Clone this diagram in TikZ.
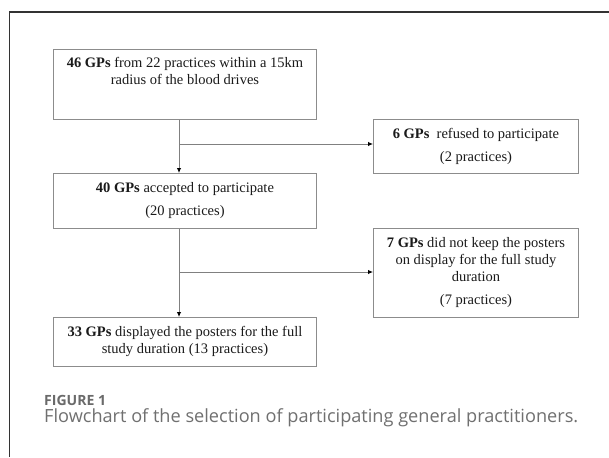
\documentclass[tikz,border=0pt]{standalone}
\usepackage{fontspec}
\setmainfont{Liberation Serif}
\newfontfamily\capfont{Open Sans}[Ligatures=NoCommon]
\usetikzlibrary{arrows.meta}
\definecolor{boxline}{HTML}{8C8C8C}
\definecolor{conline}{HTML}{808080}
\definecolor{frameline}{HTML}{333333}
\definecolor{boxtext}{HTML}{1A1A1A}
\definecolor{captext}{HTML}{707070}
\definecolor{figlabel}{HTML}{6A6A6A}
\begin{document}
\begin{tikzpicture}[x=1pt,y=-1pt,
  box/.style={draw=boxline, line width=0.9pt, fill=white, anchor=north west, inner sep=0pt},
  txt/.style={text=boxtext, align=center, inner sep=0pt, font=\fontsize{14.5}{17}\selectfont},
  con/.style={draw=conline, line width=0.9pt},
  arr/.style={con, -{Latex[length=5pt,width=4.5pt,fill=black,color=black]}},
  captxt/.style={anchor=base west, inner sep=0pt}
]
\useasboundingbox (0,0) rectangle (609,457);
\fill[white] (0,0) rectangle (609,457);
% frame
\draw[frameline, line width=1.1pt] (609,12) -- (9.5,12) -- (9.5,457);

% boxes
\node (b1) [box, minimum width=263pt, minimum height=70pt] at (53,49) {};
\node (t1) [txt, anchor=north] at (185,57) {\textbf{46 GPs} from 22 practices within a 15km\\radius of the blood drives};

\node (r) [box, minimum width=205pt, minimum height=54pt] at (373,119) {};
\node (tr) [txt] at (r.center) {\textbf{6 GPs}\ \ refused to participate\\[6pt](2 practices)};

\node (b2) [box, minimum width=263pt, minimum height=55pt] at (53,173) {};
\node (t2) [txt] at (b2.center) {\textbf{40 GPs} accepted to participate\\[6pt](20 practices)};

\node (b7) [box, minimum width=205pt, minimum height=89pt] at (373,228) {};
\node (t7) [txt] at (b7.center) {\textbf{7 GPs} did not keep the posters\\on display for the full study\\duration\\[6pt](7 practices)};

\node (b33) [box, minimum width=263pt, minimum height=49pt] at (53,317) {};
\node (t33) [txt] at ([yshift=0.5pt]b33.center) {\textbf{33 GPs} displayed the posters for the full\\study duration (13 practices)};

% connectors
\coordinate (j1) at (179,144);
\coordinate (j2) at (179,272);
\draw[arr] (b1.south -| j1) -- (b2.north -| j1);
\draw[arr] (j1) -- (r.west |- j1);
\draw[arr] (b2.south -| j2) -- (b33.north -| j2);
\draw[arr] (j2) -- (b7.west |- j2);

% caption
\node (fig) [captxt, text=figlabel] at (44,405) {\resizebox{62pt}{!}{\capfont\bfseries\fontsize{13}{13}\selectfont FIGURE 1}};
\node (cap) [captxt, text=captext] at (44,422) {\resizebox{534pt}{!}{\capfont\fontsize{15}{15}\selectfont Flowchart of the selection of participating general practitioners.}};
\end{tikzpicture}
\end{document}
